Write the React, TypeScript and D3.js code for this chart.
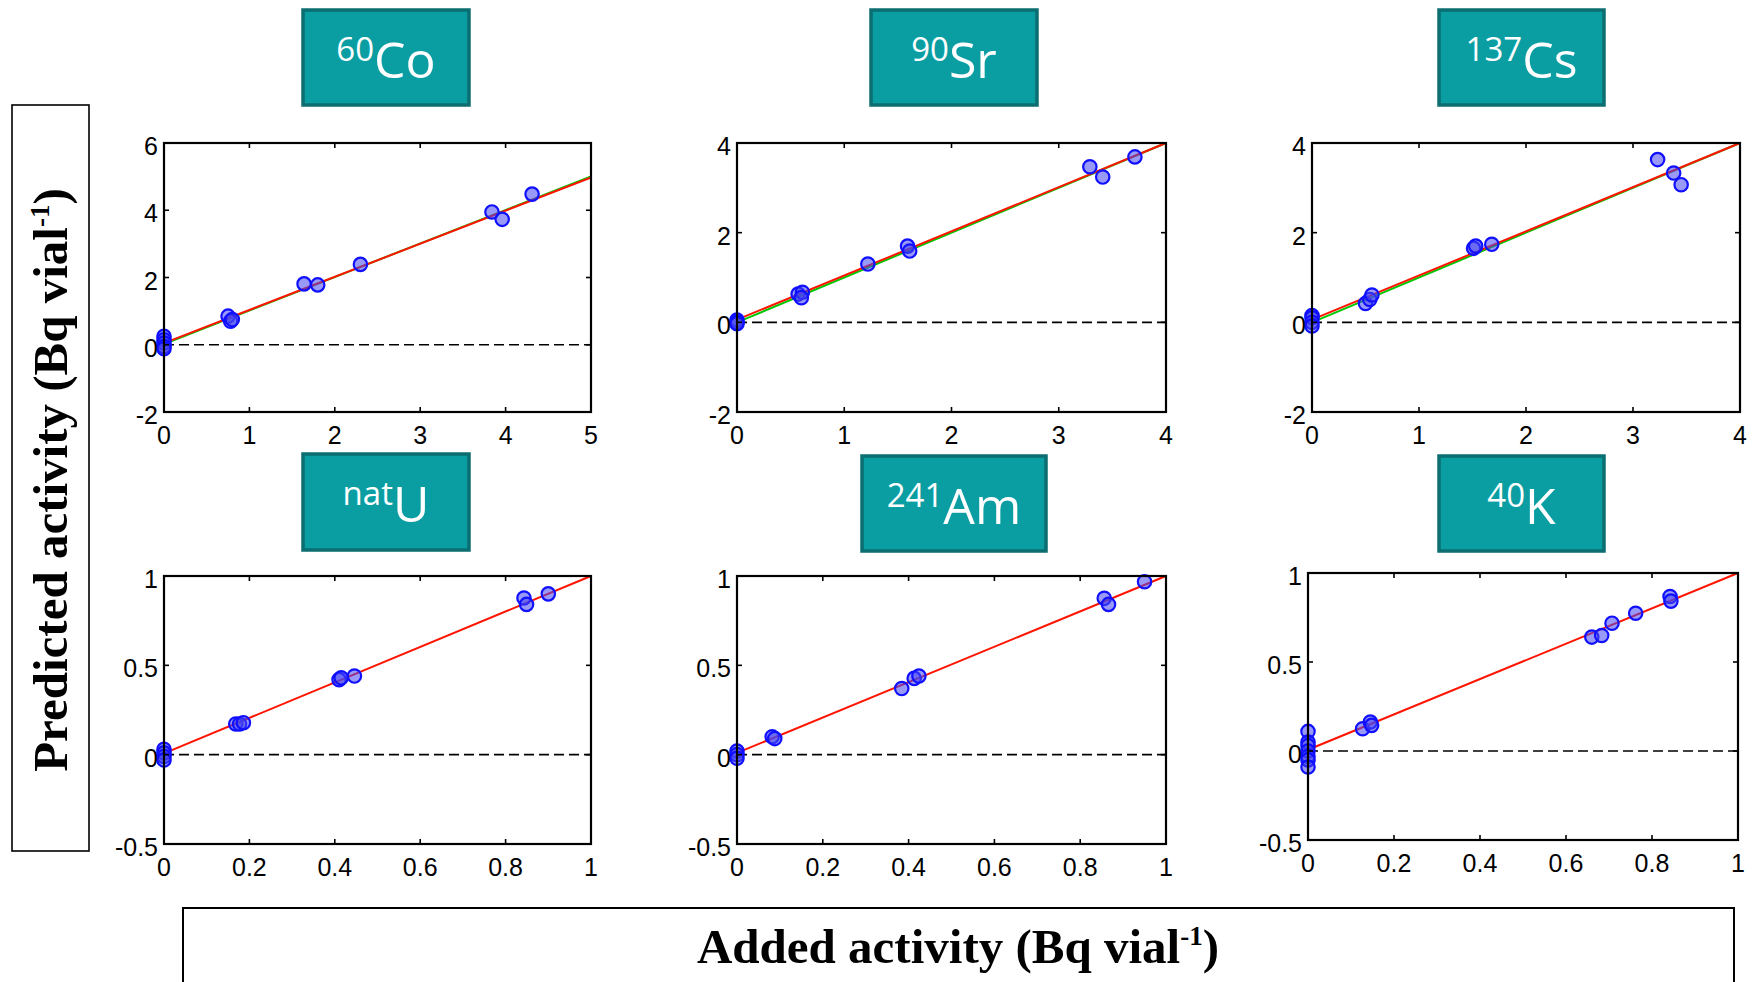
import React, { useEffect, useRef } from "react";
import * as d3 from "d3";

// nuclide labels
const massNumbers = ["60", "90", "137", "nat", "241", "40"];
const elements = ["Co", "Sr", "Cs", "U", "Am", "K"];

// axis domains and ticks
const xMaxes = [5, 4, 4, 1, 1, 1];
const yMins = [-2, -2, -2, -0.5, -0.5, -0.5];
const yMaxes = [6, 4, 4, 1, 1, 1];
const xTicksBig = [0, 1, 2, 3, 4, 5];
const xTicksMid = [0, 1, 2, 3, 4];
const xTicksSmall = [0, 0.2, 0.4, 0.6, 0.8, 1];
const yTicksCo = [-2, 0, 2, 4, 6];
const yTicksSrCs = [-2, 0, 2, 4];
const yTicksSmall = [-0.5, 0, 0.5, 1];

// added (x) vs predicted (y) activity, Bq vial-1
const coAdded = [0, 0, 0, 0, 0, 0.75, 0.78, 0.8, 1.64, 1.8, 2.3, 3.84, 3.96, 4.31];
const coPred = [0.25, 0.15, 0.05, -0.05, -0.12, 0.85, 0.7, 0.75, 1.81, 1.78, 2.39, 3.95, 3.73, 4.48];

const srAdded = [0, 0, 0, 0.57, 0.61, 0.6, 1.22, 1.59, 1.61, 3.29, 3.41, 3.71];
const srPred = [0.05, 0, -0.03, 0.63, 0.67, 0.55, 1.3, 1.7, 1.59, 3.47, 3.24, 3.69];

const csAdded = [0, 0, 0, 0, 0.5, 0.54, 0.56, 1.51, 1.53, 1.68, 3.23, 3.38, 3.45];
const csPred = [0.15, 0.1, 0, -0.08, 0.42, 0.51, 0.61, 1.65, 1.7, 1.74, 3.63, 3.33, 3.07];

const uAdded = [0, 0, 0, 0, 0.168, 0.177, 0.186, 0.41, 0.415, 0.446, 0.843, 0.849, 0.9];
const uPred = [0.03, 0.01, -0.01, -0.03, 0.172, 0.172, 0.179, 0.42, 0.43, 0.44, 0.877, 0.841, 0.9];

const amAdded = [0, 0, 0, 0.082, 0.088, 0.384, 0.413, 0.424, 0.856, 0.866, 0.95];
const amPred = [0.02, 0, -0.02, 0.1, 0.09, 0.37, 0.427, 0.44, 0.875, 0.841, 0.968];

const kAdded = [0, 0, 0, 0, 0, 0, 0, 0.127, 0.145, 0.148, 0.66, 0.683, 0.707, 0.762, 0.842, 0.844];
const kPred = [0.11, 0.05, 0.03, 0, -0.03, -0.05, -0.09, 0.125, 0.163, 0.144, 0.64, 0.649, 0.718, 0.774, 0.868, 0.842];

// fitted line [intercept, slope] (red) and reference line (green)
const redFits = [[0.05, 0.985], [0.06, 0.985], [0.06, 0.985], [0.007, 0.993], [0.01, 0.99], [0.007, 0.993]];
const greenFits = [[0.02, 0.997], [0, 1], [0, 1], null, null, null];

export default function App() {
  const ref = useRef<SVGSVGElement>(null);

  useEffect(() => {
    const svg = d3.select(ref.current);
    svg.selectAll("*").remove();

    const added = [coAdded, srAdded, csAdded, uAdded, amAdded, kAdded];
    const pred = [coPred, srPred, csPred, uPred, amPred, kPred];
    const xTicks = [xTicksBig, xTicksMid, xTicksMid, xTicksSmall, xTicksSmall, xTicksSmall];
    const yTicks = [yTicksCo, yTicksSrCs, yTicksSrCs, yTicksSmall, yTicksSmall, yTicksSmall];

    // plot frames [left, top, right, bottom]
    const frames = [
      [164, 143, 591, 412], [737, 143, 1166, 412], [1312, 143, 1740, 412],
      [164, 576, 591, 844], [737, 576, 1166, 844], [1308, 573, 1738, 840],
    ];
    const boxes = [
      [303, 10, 469, 105], [871, 10, 1037, 105], [1439, 10, 1604, 105],
      [303, 454, 469, 550], [862, 456, 1046, 551], [1439, 456, 1604, 551],
    ];
    const tickFont = "'Liberation Sans', Arial, sans-serif";
    const serif = "'Liberation Serif', 'Times New Roman', serif";

    frames.forEach((f, i) => {
      const [l, t, r, b] = f;
      const x = d3.scaleLinear().domain([0, xMaxes[i]]).range([l, r]);
      const y = d3.scaleLinear().domain([yMins[i], yMaxes[i]]).range([b, t]);
      const g = svg.append("g");
      const fmt = (v: number) => String(v);
      const dom = [0, xMaxes[i]];

      // zero reference
      g.append("line").attr("x1", l).attr("x2", r).attr("y1", y(0)).attr("y2", y(0))
        .attr("stroke", "#000").attr("stroke-width", 1.6).attr("stroke-dasharray", "10,5");

      const gf = greenFits[i];
      if (gf) {
        g.append("path").attr("d", d3.line<number>().x(d => x(d)).y(d => y(gf[0] + gf[1] * d))(dom))
          .attr("stroke", "#00c800").attr("stroke-width", 2).attr("fill", "none");
      }
      const rf = redFits[i];
      g.append("path").attr("d", d3.line<number>().x(d => x(d)).y(d => y(rf[0] + rf[1] * d))(dom))
        .attr("stroke", "#ff1400").attr("stroke-width", 2).attr("fill", "none");

      g.selectAll(".pt").data(added[i]).join("circle").attr("class", "pt")
        .attr("cx", d => x(d)).attr("cy", (d, j) => y(pred[i][j])).attr("r", 6.7)
        .attr("fill", "rgba(70,70,240,0.55)").attr("stroke", "#1010ff").attr("stroke-width", 2.2);

      // frame
      g.append("rect").attr("x", l).attr("y", t).attr("width", r - l).attr("height", b - t)
        .attr("fill", "none").attr("stroke", "#000").attr("stroke-width", 2.2);

      // inner ticks on all sides
      xTicks[i].forEach(v => {
        g.append("line").attr("x1", x(v)).attr("x2", x(v)).attr("y1", b).attr("y2", b - 5).attr("stroke", "#000").attr("stroke-width", 1.6);
        g.append("line").attr("x1", x(v)).attr("x2", x(v)).attr("y1", t).attr("y2", t + 5).attr("stroke", "#000").attr("stroke-width", 1.6);
      });
      yTicks[i].forEach(v => {
        g.append("line").attr("x1", l).attr("x2", l + 5).attr("y1", y(v)).attr("y2", y(v)).attr("stroke", "#000").attr("stroke-width", 1.6);
        g.append("line").attr("x1", r).attr("x2", r - 5).attr("y1", y(v)).attr("y2", y(v)).attr("stroke", "#000").attr("stroke-width", 1.6);
      });

      g.selectAll(".xl").data(xTicks[i]).join("text").attr("class", "xl")
        .attr("x", d => x(d)).attr("y", b + 32).attr("text-anchor", "middle")
        .attr("font-family", tickFont).attr("font-size", 25).text(fmt);
      g.selectAll(".yl").data(yTicks[i]).join("text").attr("class", "yl")
        .attr("x", l - 6).attr("y", d => y(d) + 12).attr("text-anchor", "end")
        .attr("font-family", tickFont).attr("font-size", 25).text(fmt);

      // nuclide title box
      const [bx0, by0, bx1, by1] = boxes[i];
      svg.append("rect").attr("x", bx0).attr("y", by0).attr("width", bx1 - bx0).attr("height", by1 - by0)
        .attr("fill", "#0a9ea3").attr("stroke", "#0c6e70").attr("stroke-width", 3.5);
      const tt = svg.append("text").attr("x", (bx0 + bx1) / 2).attr("y", by0 + 68)
        .attr("text-anchor", "middle").attr("fill", "#fff").attr("font-family", "'Open Sans', 'Noto Sans', sans-serif");
      tt.append("tspan").attr("font-size", 33).attr("dy", -17).text(massNumbers[i]);
      tt.append("tspan").attr("font-size", 50).attr("dy", 17).text(elements[i]);
    });

    // axis title boxes
    svg.append("rect").attr("x", 12).attr("y", 105).attr("width", 77).attr("height", 746)
      .attr("fill", "none").attr("stroke", "#000").attr("stroke-width", 1.6);
    const yt = svg.append("text").attr("transform", "translate(67,480) rotate(-90)")
      .attr("text-anchor", "middle").attr("font-family", serif)
      .attr("font-weight", "bold").attr("font-size", 49);
    yt.append("tspan").text("Predicted activity (Bq vial");
    yt.append("tspan").attr("font-size", 27).attr("dy", -18).text("-1");
    yt.append("tspan").attr("dy", 18).text(")");

    svg.append("rect").attr("x", 183).attr("y", 908).attr("width", 1551).attr("height", 100)
      .attr("fill", "none").attr("stroke", "#000").attr("stroke-width", 2);
    const xt = svg.append("text").attr("x", 958).attr("y", 963)
      .attr("text-anchor", "middle").attr("font-family", serif)
      .attr("font-weight", "bold").attr("font-size", 49);
    xt.append("tspan").text("Added activity (Bq vial");
    xt.append("tspan").attr("font-size", 27).attr("dy", -18).text("-1");
    xt.append("tspan").attr("dy", 18).text(")");
  }, []);

  return (
    <svg ref={ref} width={1756} height={982}
      style={{ position: "absolute", left: 0, top: 0, background: "#fff" }} />
  );
}
